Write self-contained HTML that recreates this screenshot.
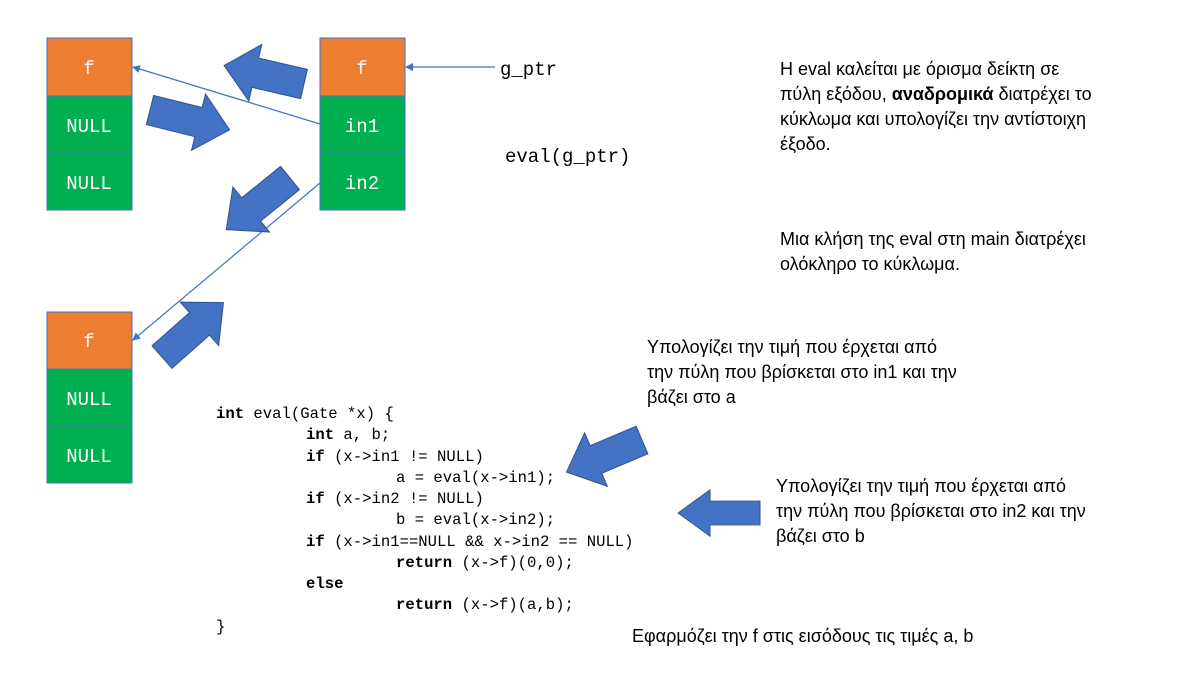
<!DOCTYPE html>
<html><head><meta charset="utf-8"><style>
html,body{margin:0;padding:0;background:#fff;}
svg{display:block;}
.m{font-family:"Liberation Mono",monospace;}
.s{font-family:"Liberation Sans",sans-serif;font-size:18px;fill:#000;}
</style></head><body>
<svg width="1200" height="675" viewBox="0 0 1200 675" xmlns="http://www.w3.org/2000/svg">
<defs>
<marker id="ah" markerWidth="8" markerHeight="8" refX="7" refY="4" orient="auto" markerUnits="userSpaceOnUse">
<path d="M0,0 L8,4 L0,8 z" fill="#4472c4"/></marker>
<polygon id="ba" points="0,-15 50,-15 50,-29 82,0 50,29 50,15 0,15" fill="#4472c4" stroke="#2f528f" stroke-width="1"/>
</defs>
<g stroke="#4472c4" stroke-width="1">
<rect x="47" y="38" width="85" height="58" fill="#ed7d31"/>
<rect x="47" y="96" width="85" height="57" fill="#00b050"/>
<rect x="47" y="153" width="85" height="57" fill="#00b050"/>
<rect x="320" y="38" width="85" height="58" fill="#ed7d31"/>
<rect x="320" y="96" width="85" height="57" fill="#00b050"/>
<rect x="320" y="153" width="85" height="57" fill="#00b050"/>
<rect x="47" y="312" width="85" height="57" fill="#ed7d31"/>
<rect x="47" y="369" width="85" height="57" fill="#00b050"/>
<rect x="47" y="426" width="85" height="57" fill="#00b050"/>
</g>
<g class="m" font-size="19" fill="#fff" text-anchor="middle">
<text x="89" y="74">f</text><text x="89" y="132">NULL</text><text x="89" y="189">NULL</text>
<text x="362" y="74">f</text><text x="362" y="132">in1</text><text x="362" y="189">in2</text>
<text x="89" y="347">f</text><text x="89" y="405">NULL</text><text x="89" y="462">NULL</text>
</g>
<g stroke="#4472c4" stroke-width="1.2" fill="none">
<line x1="320" y1="124" x2="133" y2="67" marker-end="url(#ah)"/>
<line x1="320" y1="183" x2="133" y2="340" marker-end="url(#ah)"/>
<line x1="495" y1="67" x2="406" y2="67" marker-end="url(#ah)"/>
</g>
<use href="#ba" transform="translate(304,84) rotate(193)"/>
<use href="#ba" transform="translate(150,110) rotate(14)"/>
<use href="#ba" transform="translate(290,178) rotate(141)"/>
<use href="#ba" transform="translate(162,357) rotate(-41.5)"/>
<use href="#ba" transform="translate(642,440) rotate(157)"/>
<use href="#ba" transform="translate(760,513) rotate(180) scale(1,0.8)"/>
<text class="m" x="500" y="75" font-size="19">g_ptr</text>
<text class="m" x="505" y="162" font-size="19">eval(g_ptr)</text>
<g class="m" font-size="15.6" fill="#000">
<text x="216" y="418"><tspan font-weight="bold">int</tspan> eval(Gate *x) {</text>
<text x="306" y="439"><tspan font-weight="bold">int</tspan> a, b;</text>
<text x="306" y="461"><tspan font-weight="bold">if</tspan> (x-&gt;in1 != NULL)</text>
<text x="396" y="482">a = eval(x-&gt;in1);</text>
<text x="306" y="503"><tspan font-weight="bold">if</tspan> (x-&gt;in2 != NULL)</text>
<text x="396" y="524">b = eval(x-&gt;in2);</text>
<text x="306" y="546"><tspan font-weight="bold">if</tspan> (x-&gt;in1==NULL &amp;&amp; x-&gt;in2 == NULL)</text>
<text x="396" y="567"><tspan font-weight="bold">return</tspan> (x-&gt;f)(0,0);</text>
<text x="306" y="588" font-weight="bold">else</text>
<text x="396" y="609"><tspan font-weight="bold">return</tspan> (x-&gt;f)(a,b);</text>
<text x="216" y="631">}</text>
</g>
<g class="s">
<text x="780" y="75">Η eval καλείται με όρισμα δείκτη σε</text>
<text x="780" y="100">πύλη εξόδου, <tspan font-weight="bold">αναδρομικά</tspan> διατρέχει το</text>
<text x="780" y="125">κύκλωμα και υπολογίζει την αντίστοιχη</text>
<text x="780" y="150">έξοδο.</text>
<text x="780" y="245">Μια κλήση της eval στη main διατρέχει</text>
<text x="780" y="270">ολόκληρο το κύκλωμα.</text>
<text x="647" y="353">Υπολογίζει την τιμή που έρχεται από</text>
<text x="647" y="378">την πύλη που βρίσκεται στο in1 και την</text>
<text x="647" y="403">βάζει στο a</text>
<text x="776" y="492">Υπολογίζει την τιμή που έρχεται από</text>
<text x="776" y="517">την πύλη που βρίσκεται στο in2 και την</text>
<text x="776" y="542">βάζει στο b</text>
<text x="632" y="642">Εφαρμόζει την f στις εισόδους τις τιμές a, b</text>
</g>
</svg>
</body></html>
